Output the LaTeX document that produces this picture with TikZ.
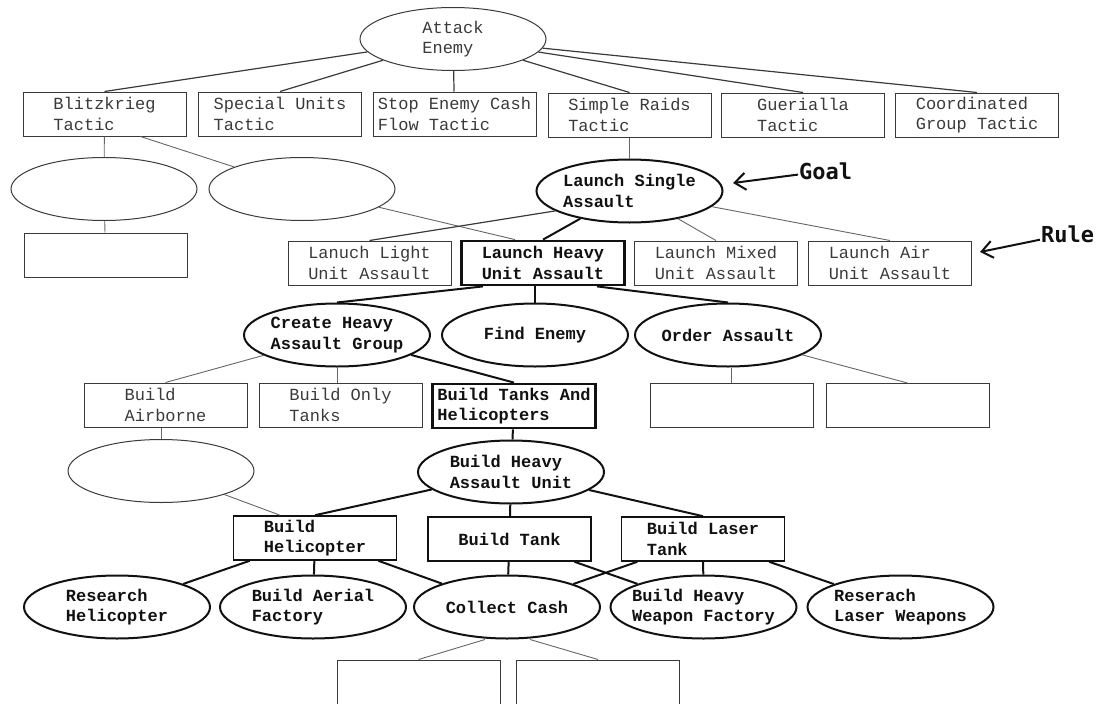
\documentclass[tikz,border=0pt]{standalone}
\usepackage{fontspec}
\setmonofont{Liberation Mono}
\newfontfamily\tagfont{DejaVu Sans Mono}
\usetikzlibrary{arrows.meta,shapes.geometric}
\definecolor{ink}{HTML}{111111}
\definecolor{dim}{HTML}{3A3A3A}
\definecolor{pale}{HTML}{666666}
\tikzset{
  rtxt/.style={font=\ttfamily\fontsize{17}{20.5}\selectfont, align=left, text=dim},
  btxt/.style={font=\ttfamily\bfseries\fontsize{17}{20.5}\selectfont, align=left, text=ink},
  tagtxt/.style={font=\tagfont\bfseries\fontsize{22}{24}\selectfont, text=ink, inner sep=1pt},
  goal0/.style={ellipse, draw=dim, line width=1pt, inner sep=0pt, minimum width=186pt, minimum height=63pt},
  goal/.style={goal0, draw=ink, line width=2pt},
  gl0/.style={goal0, label={[rtxt]center:#1}},
  gl/.style={goal, label={[btxt]center:#1}},
  rl0/.style={rectangle, draw=dim, line width=1pt, inner sep=0pt, minimum width=163pt, minimum height=44pt, rtxt},
  rl/.style={rl0, draw=ink, line width=1.6pt, btxt},
  rlx/.style={rl, line width=2.8pt},
  link/.style={draw=ink, line width=2pt},
  link1/.style={draw=dim, line width=1.2pt},
  link0/.style={draw=pale, line width=0.9pt},
  note/.style={-{Straight Barb[length=11pt, width=17pt]}, draw=ink, line width=2pt},
}

\begin{document}
\begin{tikzpicture}[x=1pt, y=-1pt]
  \useasboundingbox (0,0) rectangle (1103,704);
  % top goal and tactics
  \node[gl0={Attack\\Enemy}] (ae) at (453,39) {};
  \node[rl0] (bk) at (104.5,114) {Blitzkrieg\\Tactic};
  \node[rl0] (su) at (280,114) {Special Units\\Tactic};
  \node[rl0] (sc) at (454.5,114) {Stop Enemy Cash\\Flow Tactic};
  \node[rl0] (sr) at (629.5,115) {Simple Raids\\Tactic};
  \node[rl0] (gu) at (803,115) {Guerialla\\Tactic};
  \node[rl0] (cg) at (977,115) {Coordinated\\Group Tactic};
  \foreach \t in {bk,su,sr,gu,cg} \draw[link1] (ae) -- (\t.north);
  \draw[link1] (ae) -- (sc);
  % unused branch on the left
  \node[goal0] (e1) at (104,189) {};
  \node[goal0] (e2) at (302,189) {};
  \node[rl0] (b1) at (105.5,255) {};
  \draw[link0] (bk) -- (e1);
  \draw[link0] (e1) -- (b1);
  \draw[link0] ([xshift=36pt]bk.south) -- (e2);
  % single assault
  \node[gl={Launch Single\\Assault}] (lsa) at (629.5,191) {};
  \node[rl0] (ll) at (369.5,263) {Lanuch Light\\Unit Assault};
  \node[rlx] (lh) at (543,263) {Launch Heavy\\Unit Assault};
  \node[rl0] (lm) at (716,263) {Launch Mixed\\Unit Assault};
  \node[rl0] (la) at (890,263) {Launch Air\\Unit Assault};
  \draw[link0] (sr) -- (lsa);
  \draw[link0] (e2) -- ([xshift=-28pt]lh.north);
  \draw[link1] (lsa.195) -- (ll.north);
  \draw[link] (lsa) -- (lh.north);
  \draw[link0] (lsa) -- (lm.north);
  \draw[link0] (lsa) -- (la.north);
  % goal / rule tags
  \node[tagtxt, anchor=west] (goaltag) at (798,171) {Goal};
  \coordinate (goalpt) at (733,183);
  \draw[note] (goaltag) -- (goalpt);
  \node[tagtxt, anchor=west] (ruletag) at (1040,234) {Rule};
  \coordinate (rulept) at (980,252);
  \draw[note] (ruletag) -- (rulept);
  % heavy unit assault
  \node[gl={Create Heavy\\Assault Group}] (cha) at (337,335) {};
  \node[gl={Find Enemy}] (fe) at (535,335) {};
  \node[gl={Order Assault}] (oa) at (728,335) {};
  \draw[link] ([xshift=-60pt]lh.south) -- (cha.north);
  \draw[link] (fe |- lh.south) -- (fe);
  \draw[link] ([xshift=54pt]lh.south) -- (oa.north);
  \node[rl0] (o1) at (731.5,405.5) {};
  \node[rl0] (o2) at (907.5,405.5) {};
  \draw[link0] (o1 |- oa.south) -- (o1);
  \draw[link0] (oa) -- (o2.north);
  \node[rl0] (ba) at (165.5,405) {Build\\Airborne};
  \node[rl0] (bo) at (340.5,405) {Build Only\\Tanks};
  \node[rlx] (bt) at (514,406) {Build Tanks And\\Helicopters};
  \draw[link0] (cha) -- (ba.north);
  \draw[link0] (cha) -- (cha |- bo.north);
  \draw[link] (cha) -- (bt.north);
  \node[goal0] (e3) at (161,471) {};
  \draw[link0] (e3 |- ba.south) -- (e3);
  % heavy assault unit
  \node[gl={Build Heavy\\Assault Unit}] (bhau) at (511,472) {};
  \draw[link] (bt) -- (bhau);
  \node[rl] (bh) at (315,538) {Build\\Helicopter};
  \node[rl] (btk) at (509.5,539) {Build Tank};
  \node[rl] (bl) at (703,539) {Build Laser\\Tank};
  \draw[link0] (e3) -- ([xshift=-35pt]bh.north);
  \draw[link] (bhau) -- (bh.north);
  \draw[link] (bhau) -- (btk);
  \draw[link] (bhau) -- (bl.north);
  \node[gl={Research\\Helicopter}] (rh) at (117,607) {};
  \node[gl={Build Aerial\\Factory}] (baf) at (313,607) {};
  \node[gl={Collect Cash}] (cc) at (507,607) {};
  \node[gl={Build Heavy\\Weapon Factory}] (bhw) at (703.5,607) {};
  \node[gl={Reserach\\Laser Weapons}] (rlw) at (900.5,607) {};
  \foreach \a/\b in {bh/rh,bh/baf,bh/cc,btk/cc,btk/bhw,bl/cc,bl/bhw,bl/rlw}
    \draw[link] (\a) -- (\b);
  \node[rl0] (c1) at (418.5,682) {};
  \node[rl0] (c2) at (598,682) {};
  \draw[link0] ([xshift=-22pt]cc.south) -- (c1.north);
  \draw[link0] ([xshift=23pt]cc.south) -- (c2.north);
\end{tikzpicture}
\end{document}
